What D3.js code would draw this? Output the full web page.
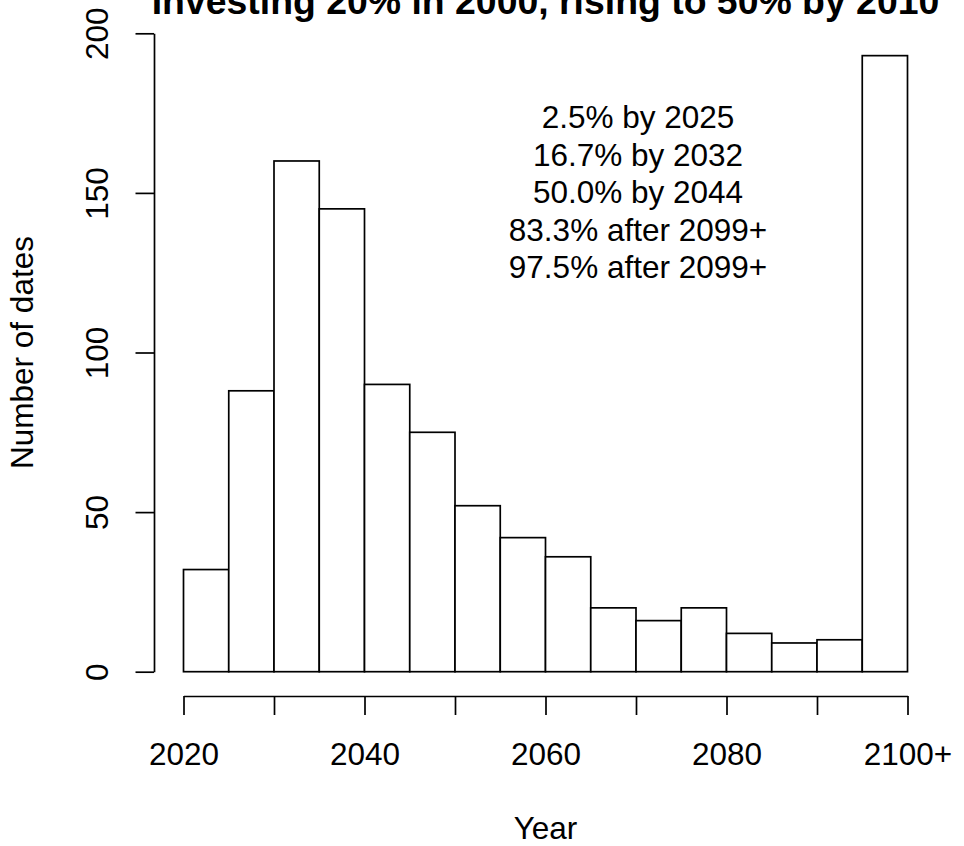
<!DOCTYPE html>
<html>
<head>
<meta charset="utf-8">
<script src="https://cdn.jsdelivr.net/npm/d3@7"></script>
<style>
  html, body { margin: 0; padding: 0; background: #fff; }
  svg { display: block; }
  text { font-family: "Liberation Sans", Arial, Helvetica, sans-serif; fill: #000; }
</style>
</head>
<body>
<svg id="chart" width="964" height="846"></svg>
<script>
// ---- data ----
const binStarts = [2020, 2025, 2030, 2035, 2040, 2045, 2050, 2055, 2060, 2065, 2070, 2075, 2080, 2085, 2090, 2095];
const binWidth = 5;
const counts = [32, 88, 160, 145, 90, 75, 52, 42, 36, 20, 16, 20, 12, 9, 10, 193];
const xTicks = [2020, 2030, 2040, 2050, 2060, 2070, 2080, 2090, 2100];
const xTickLabels = ["2020", "", "2040", "", "2060", "", "2080", "", "2100+"];
const yTicks = [0, 50, 100, 150, 200];
const annotations = ["2.5% by 2025", "16.7% by 2032", "50.0% by 2044", "83.3% after 2099+", "97.5% after 2099+"];
const annotationX = 2070;
const titleText = "Investing 20% in 2000, rising to 50% by 2010";
const xLabel = "Year";
const yLabel = "Number of dates";

// ---- layout ----
const svg = d3.select("#chart");
const x = d3.scaleLinear().domain([2020, 2100]).range([183.5, 907.5]);
const y = d3.scaleLinear().domain([0, 200]).range([671.7, 33.3]);
const axisY = 696;   // x-axis line position
const axisX = 154;   // y-axis line position
const fs = 31.5;

// bars
svg.append("g").selectAll("rect")
  .data(binStarts)
  .join("rect")
  .attr("x", (d) => x(d))
  .attr("width", (d) => x(d + binWidth) - x(d))
  .attr("y", (d, i) => y(counts[i]))
  .attr("height", (d, i) => y(0) - y(counts[i]))
  .attr("fill", "#fff")
  .attr("stroke", "#000")
  .attr("stroke-width", 1.7);

// x axis
const xAxis = d3.axisBottom(x)
  .tickValues(xTicks)
  .tickSize(19)
  .tickSizeOuter(0)
  .tickFormat((d, i) => xTickLabels[i]);
const gx = svg.append("g").attr("transform", `translate(0,${axisY})`).call(xAxis);
gx.select(".domain").attr("stroke", "#000").attr("stroke-width", 1.7);
gx.selectAll(".tick line").attr("stroke", "#000").attr("stroke-width", 1.7);
gx.selectAll(".tick text")
  .attr("y", 69).attr("dy", null)
  .attr("font-size", fs)
  .attr("font-family", "Liberation Sans, Arial, sans-serif")
  .attr("fill", "#000");

// y axis
const yAxis = d3.axisLeft(y)
  .tickValues(yTicks)
  .tickSize(18.5)
  .tickSizeOuter(0)
  .tickFormat(d3.format("d"));
const gy = svg.append("g").attr("transform", `translate(${axisX},0)`).call(yAxis);
gy.select(".domain").attr("stroke", "#000").attr("stroke-width", 1.7);
gy.selectAll(".tick line").attr("stroke", "#000").attr("stroke-width", 1.7);
gy.selectAll(".tick text")
  .attr("x", null).attr("dy", null)
  .attr("transform", "translate(-46,0) rotate(-90)")
  .attr("text-anchor", "middle")
  .attr("font-size", fs)
  .attr("font-family", "Liberation Sans, Arial, sans-serif")
  .attr("fill", "#000");

// axis titles
svg.append("text")
  .attr("x", (x(2020) + x(2100)) / 2)
  .attr("y", 839)
  .attr("text-anchor", "middle")
  .attr("font-size", fs)
  .text(xLabel);
svg.append("text")
  .attr("transform", `translate(33,${(y(0) + y(200)) / 2}) rotate(-90)`)
  .attr("text-anchor", "middle")
  .attr("font-size", fs)
  .text(yLabel);

// title
svg.append("text")
  .attr("x", (x(2020) + x(2100)) / 2)
  .attr("y", 13.5)
  .attr("text-anchor", "middle")
  .attr("font-size", 37.4)
  .attr("font-weight", "bold")
  .text(titleText);

// annotations
svg.append("g").selectAll("text")
  .data(annotations)
  .join("text")
  .attr("x", x(annotationX) + 2)
  .attr("y", (d, i) => 128.3 + i * 37.5)
  .attr("text-anchor", "middle")
  .attr("font-size", fs)
  .text((d) => d);
</script>
</body>
</html>
